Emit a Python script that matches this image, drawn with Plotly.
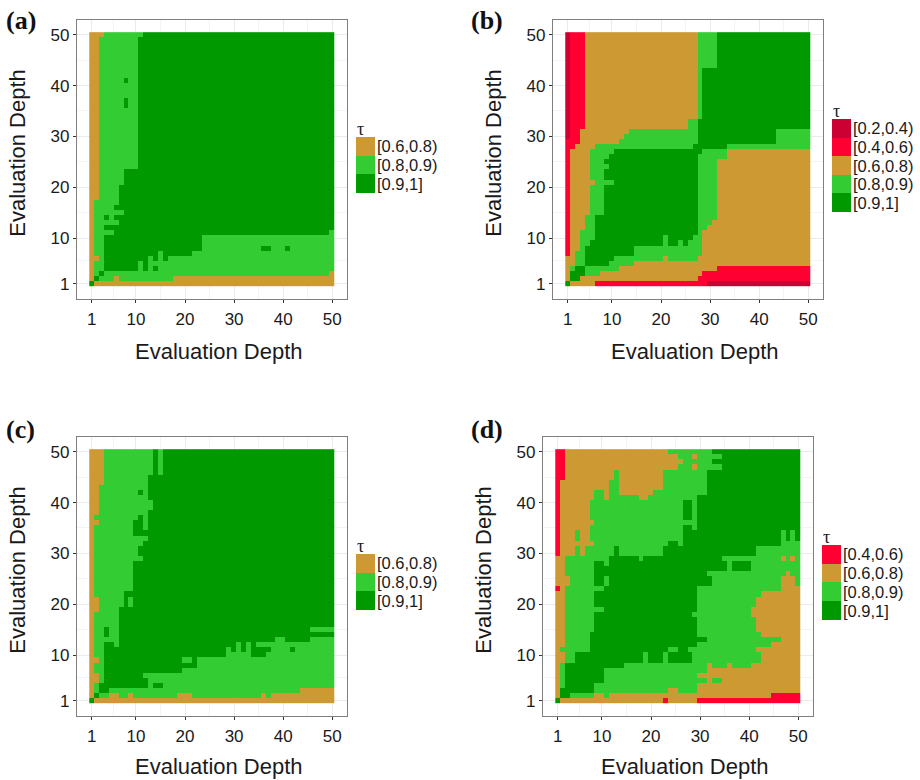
import plotly.graph_objects as go

# Each row is a run-length description of one row of the matrix, row 1 (bottom) first.
# R=[0.2,0.4) r=[0.4,0.6) o=[0.6,0.8) g=[0.8,0.9) d=[0.9,1]
rows_a = ["d1 o49", "o1 d1 g3 o1 g11 o33", "o1 g1 d1 g46 o1", "o1 g2 d7 g1 d1 g1 d1 g36", "o1 g2 d7 g1 d1 g38",
    "o2 g1 d9 g1 d1 g1 d1 g34", "o1 g2 d11 g1 d6 g29", "o1 g2 d20 g12 d2 g3 d1 g9", "o1 g2 d20 g27", "o1 g2 d20 g27",
    "o1 g4 d44 g1", "o1 g2 d47", "o1 g5 d44", "o1 g2 d1 g1 d45", "o1 g6 d43",
    "o1 g4 d45", "o1 g5 d44", "o2 g4 d44", "o2 g4 d44", "o2 g4 d44",
    "o2 g5 d43", "o2 g5 d43", "o2 g5 d43", "o2 g8 d40", "o2 g8 d40",
    "o2 g8 d40", "o2 g8 d40", "o2 g8 d40", "o2 g8 d40", "o2 g8 d40",
    "o2 g8 d40", "o2 g8 d40", "o2 g8 d40", "o2 g8 d40", "o2 g8 d40",
    "o2 g5 d1 g2 d40", "o2 g5 d1 g2 d40", "o2 g8 d40", "o2 g8 d40", "o2 g8 d40",
    "o2 g5 d1 g2 d40", "o2 g8 d40", "o2 g8 d40", "o2 g8 d40", "o2 g8 d40",
    "o2 g8 d40", "o2 g8 d40", "o2 g8 d40", "o2 g8 d40", "o3 g8 d39"]

rows_b = ["d1 o5 r23 R21", "o1 d2 o24 r23", "o1 d3 g3 o21 r22", "o1 g1 d2 g7 o20 r19", "o2 g2 d5 g5 o36",
    "o2 g2 d6 g10 o1 g6 o23", "r1 o1 g2 d10 g14 o22", "r1 o2 g1 d10 g14 o22", "r1 o2 g2 d15 g1 d2 g1 d1 g3 o22", "r1 o2 g3 d14 g1 d5 g2 o22",
    "r1 o2 g3 d21 g1 o22", "r1 o3 g2 d21 g2 o21", "r1 o3 g2 d21 g3 o20", "r1 o3 g2 d21 g4 o19", "r1 o4 g3 d19 g4 o19",
    "r1 o4 g3 d19 g4 o19", "r1 o4 g3 d19 g4 o19", "r1 o4 g3 d19 g4 o19", "r1 o4 g3 d19 g4 o19", "r1 o4 g3 d19 g4 o19",
    "r1 o5 g4 d17 g4 o19", "r1 o4 g3 d19 g4 o19", "r1 o4 g3 d19 g4 o19", "r1 o4 g4 d18 g4 o19", "r1 o4 g3 d19 g4 o19",
    "r1 o4 g4 d18 g6 o17", "r1 o4 g5 d18 g5 o17", "r2 o4 g20 d7 g17", "r3 o8 g16 d16 g7", "R1 r2 o9 g15 d16 g7",
    "R1 r2 o10 g14 d16 g7", "R1 r3 o21 g2 d23", "R1 r3 o21 g2 d23", "R1 r3 o23 g1 d22", "R1 r3 o23 g1 d22",
    "R1 r3 o23 g1 d22", "R1 r3 o23 g1 d22", "R1 r3 o23 g1 d22", "R1 r3 o23 g1 d22", "R1 r3 o23 g1 d22",
    "R1 r3 o23 g1 d22", "R1 r3 o23 g1 d22", "R1 r3 o23 g1 d22", "R1 r3 o23 g4 d19", "R1 r3 o23 g4 d19",
    "R1 r3 o23 g4 d19", "R1 r3 o23 g4 d19", "R1 r3 o23 g4 d19", "R1 r3 o23 g4 d19", "R1 r3 o23 g4 d19"]

rows_c = ["d1 o49", "o1 d1 g2 o2 g2 o1 g9 o3 g14 o1 g1 o13", "o1 g1 d2 g39 o7", "o1 g1 d10 g1 d2 g35", "o2 g1 d9 g38",
    "o2 g1 d8 g39", "o1 g2 d16 g31", "o1 g2 d19 g28", "o2 g1 d16 g2 d1 g28", "o1 g2 d25 g5 d3 g14",
    "o1 g2 d25 g1 d1 g1 d1 g1 d4 g4 d1 g8", "o1 g2 d2 g1 d24 g1 d1 g1 d1 g16", "o1 g5 d32 g2 d5 g5", "o1 g2 d1 g2 d44", "o1 g2 d1 g2 d39 g5",
    "o1 g5 d44", "o1 g5 d44", "o1 g5 d44", "o2 g4 d44", "o2 g5 d1 g1 d41",
    "o2 g5 d1 g1 d41", "o1 g6 d43", "o1 g8 d41", "o1 g8 d41", "o1 g8 d41",
    "o1 g8 d41", "o1 g8 d41", "o1 g8 d41", "o1 g10 d39", "o1 g9 d40",
    "o1 g9 d40", "o1 g10 d39", "o1 g11 d38", "o1 g8 d41", "o1 g8 d2 g1 d38",
    "o2 g7 d2 g1 d38", "o1 g9 d1 g1 d38", "o2 g10 d38", "o2 g11 d37", "o2 g11 d37",
    "o2 g10 d38", "o2 g8 d1 g1 d38", "o2 g10 d38", "o3 g9 d38", "o3 g9 d38",
    "o3 g10 d1 g1 d35", "o3 g10 d1 g1 d35", "o3 g10 d1 g1 d35", "o3 g10 d1 g1 d35", "o3 g10 d1 g1 d35"]

rows_d = ["d1 o21 r1 o6 r21", "o1 d2 g5 o2 g1 o33 r6", "o1 d7 g15 o2 g4 o21", "o1 g1 d6 g21 o21", "o1 g1 d8 g21 o1 g2 o16",
    "o1 g1 d8 g19 o21", "o1 g1 d8 g21 o19", "o1 g1 d12 g17 o1 g3 o1 g4 o10", "o2 g2 d14 g1 d3 g1 d5 g14 o8", "o2 g2 d14 g1 d3 g1 d5 g14 o8",
    "o1 g6 d16 g2 d2 g14 o9", "o2 g5 d22 g15 o6", "o2 g5 d24 g15 o4", "o2 g5 d22 g13 o8", "o2 g6 d21 g12 o9",
    "o2 g6 d21 g12 o9", "o2 g6 d21 g12 o9", "o2 g6 d20 g12 o10", "o2 g8 d19 g11 o10", "o2 g6 d21 g12 o9",
    "o2 g6 d21 g12 o9", "o2 g6 d21 g13 o8", "r1 o1 g8 d19 g17 o4", "o3 g5 d2 g1 d21 g14 o3 g1", "o3 g5 d2 g1 d21 g14 o3 g1",
    "o2 g6 d23 g16 o1 g2", "o2 g6 d27 g1 d4 g10", "o2 g6 d2 g1 d24 g1 d4 g10", "o2 g9 d6 g1 d16 g12 o1 g1 o1 g1", "r1 o3 g1 o1 g6 d1 g9 d19 g9",
    "r1 o3 g1 o1 g6 d1 g9 d19 g9", "r1 o7 g15 d2 g1 d20 g4", "r1 o3 g1 o2 g19 d20 g1 d1 g1 d1", "r1 o3 g1 o2 g19 d20 g1 d1 g1 d1", "r1 o6 g19 d2 g1 d21",
    "r1 o7 g21 d21", "r1 o6 g19 d2 g1 d21", "r1 o6 g19 d2 g1 d21", "r1 o6 g19 d2 g1 d21", "r1 o6 g19 d2 g1 d21",
    "r1 o7 g2 o1 g6 o2 g10 d21", "r1 o7 g2 o1 g2 o7 g11 d19", "r1 o10 g2 o9 g9 d19", "r1 o10 g2 o9 g9 d19", "r2 o10 g1 o9 g9 d19",
    "r2 o10 g1 o9 g9 d19", "r2 o23 g3 o1 g5 d16", "r2 o24 g6 d18", "r2 o23 g3 o1 g5 d16", "r2 o21 g9 d18"]

category_labels = {"R": "[0.2,0.4)", "r": "[0.4,0.6)", "o": "[0.6,0.8)", "g": "[0.8,0.9)", "d": "[0.9,1]"}
category_colors = {"R": "#CC0033", "r": "#FF0033", "o": "#CC9933", "g": "#33CC33", "d": "#009900"}
depths = list(range(1, 51))
tick_values = [1, 10, 20, 30, 40, 50]
minor_values = [5.5, 15, 25, 35, 45]
axis_title = "Evaluation Depth"

W, H = 920, 780
SANS = "Liberation Sans, Arial, sans-serif"
SERIF = "Liberation Serif, Times New Roman, serif"
TEXT = "#1a1a1a"


def expand(rows):
    out = []
    for row in rows:
        cells = []
        for run in row.split():
            cells += [run[0]] * int(run[1:])
        assert len(cells) == 50, row
        out.append(cells)
    assert len(out) == 50
    return out


# name, rows, legend keys top-to-bottom, plot box (l, t, r, b), legend box (l, t, r, b), label xy, x-title centre y
panels = [
    ("(a)", rows_a, "ogd", (77, 19.5, 347, 299), (356, 137, 375, 193), (3.5, 20), 351.5),
    ("(b)", rows_b, "Rrogd", (553, 19.5, 823, 299), (832, 119, 851, 212), (469.5, 20), 351.5),
    ("(c)", rows_c, "ogd", (77, 436.5, 347, 716), (356, 554, 375, 610), (3.5, 429), 766),
    ("(d)", rows_d, "rogd", (543, 436.5, 813, 716), (822, 545, 841, 620), (469.5, 429), 766),
]

fig = go.Figure()
annotations = []


def note(text, px, py, size, family=SANS, anchor="left", angle=0, color=TEXT):
    annotations.append(dict(text=text, x=px / W, y=1 - py / H, xref="paper", yref="paper",
                            xanchor=anchor, yanchor="middle", showarrow=False, textangle=angle,
                            font=dict(family=family, size=size, color=color)))


for i, (label, rows, keys, box, leg, lab, xtitle_y) in enumerate(panels, start=1):
    l, t, r, b = box
    n = len(keys)
    code = {k: n - 1 - idx for idx, k in enumerate(keys)}
    z = [[code[c] for c in row] for row in expand(rows)]
    scale = []
    for idx, k in enumerate(reversed(keys)):
        scale += [[idx / n, category_colors[k]], [(idx + 1) / n, category_colors[k]]]
    xname = "x" if i == 1 else f"x{i}"
    yname = "y" if i == 1 else f"y{i}"
    fig.add_trace(go.Heatmap(
        z=z, x=depths, y=depths, xaxis=xname, yaxis=yname,
        zmin=-0.5, zmax=n - 0.5, colorscale=scale, xgap=0, ygap=0,
        colorbar=dict(
            x=leg[0] / W, xanchor="left", y=1 - leg[1] / H, yanchor="top",
            lenmode="pixels", len=leg[3] - leg[1], thicknessmode="pixels", thickness=leg[2] - leg[0],
            xpad=0, ypad=0, outlinewidth=0, borderwidth=0, ticks="", ticklen=0,
            tickmode="array", tickvals=[code[k] for k in keys], showticklabels=False,
        ),
    ))
    axis_common = dict(
        range=[-2, 53], tickmode="array", tickvals=tick_values, ticks="outside", ticklen=3, tickwidth=1,
        tickcolor="#333333", tickfont=dict(family=SANS, size=17, color=TEXT), showline=True, mirror=True,
        linecolor="#7f7f7f", linewidth=1.3, showgrid=True, gridcolor="#ebebeb", gridwidth=1, zeroline=False,
        minor=dict(tickmode="array", tickvals=minor_values, showgrid=True, gridcolor="#f4f4f4", gridwidth=1, ticks=""),
        automargin=False,
    )
    fig.update_layout({
        ("xaxis" if i == 1 else f"xaxis{i}"): dict(axis_common, domain=[l / W, r / W], anchor=yname, ticklabelstandoff=1),
        ("yaxis" if i == 1 else f"yaxis{i}"): dict(axis_common, domain=[1 - b / H, 1 - t / H], anchor=xname),
    })
    note(axis_title, (l + r) / 2 + 6.5, xtitle_y, 22, anchor="center")
    note(axis_title, l - 59.5, (t + b) / 2 - 6, 22, anchor="center", angle=-90)
    note(f"<b>{label}</b>", lab[0], lab[1], 26, family=SERIF, color="#111111")
    note("τ", leg[0] - 1.5, leg[1] - 8, 18, family=SERIF)
    step = (leg[3] - leg[1]) / n
    for idx, k in enumerate(keys):
        note(category_labels[k], leg[2] - 0.5, leg[1] + step * (idx + 0.5), 16.5)

fig.update_layout(width=W, height=H, margin=dict(l=0, r=0, t=0, b=0), paper_bgcolor="white",
                  plot_bgcolor="white", annotations=annotations, showlegend=False)
fig.write_html("out.html", post_script="document.body.style.margin='0';", config={"displayModeBar": False})
